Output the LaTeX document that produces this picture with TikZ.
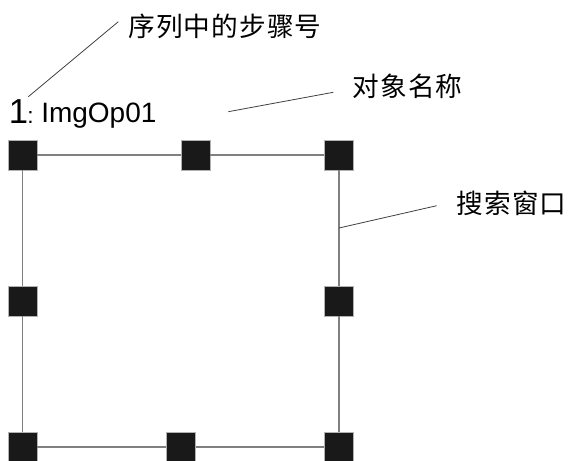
\documentclass[tikz,border=0pt]{standalone}
\usepackage{fontspec}
\setmainfont{Liberation Sans}
\newfontfamily\cjk[LetterSpace=4]{Noto Sans CJK SC}
\usetikzlibrary{calc}
\begin{document}
\begin{tikzpicture}[x=0.75pt,y=-0.75pt,
  handle/.style={rectangle,fill=black!90,draw=black!30,line width=0.3pt,
    minimum width=21.75pt,minimum height=22.5pt,inner sep=0pt},
  edge/.style={draw=black!50,line width=0.8pt},
  leader/.style={draw=black!75,line width=0.6pt},
  cjklabel/.style={font=\cjk\fontsize{20}{22}\selectfont,inner sep=0pt,anchor=center},
  latin/.style={inner sep=0pt,anchor=base west}]
\useasboundingbox (0,0) rectangle (569,461);
% handles
\node[handle] (tl) at (22.5,155) {};
\node[handle] (tm) at (195.5,155) {};
\node[handle] (tr) at (339,155) {};
\node[handle] (ml) at (22.5,301) {};
\node[handle] (mr) at (339,301) {};
\node[handle] (bl) at (22.5,447) {};
\node[handle] (bm) at (181,447) {};
\node[handle] (br) at (339,447) {};
% window edges
\path[edge] (tl) -- (tm) (tm) -- (tr) (tr) -- (mr) (mr) -- (br)
            (bl) -- (bm) (bm) -- (br) (tl) -- (ml) (ml) -- (bl);
% labels
\node[latin,font=\fontsize{26}{26}\selectfont] (num) at (8.5,123) {1\kern-0.5pt\fontsize{17}{17}\selectfont:};
\node[latin,font=\fontsize{21}{22}\selectfont] (name) at (41,122) {ImgOp01};
\node[cjklabel] (step) at (225,26) {序列中的步骤号};
\node[cjklabel] (obj) at (407.5,86) {对象名称};
\node[cjklabel] (win) at (511.5,203) {搜索窗口};
% leaders
\coordinate (stepA) at (28.3,96.7);
\coordinate (stepB) at (118.3,21.7);
\coordinate (objA) at (228.3,111.7);
\coordinate (objB) at (333.3,92.3);
\coordinate (winA) at ($(tr)!0.5!(mr)$);
\coordinate (winB) at (436.7,205.7);
\path[leader] (stepA) -- (stepB);
\path[leader] (objA) -- (objB);
\path[leader] (winA) -- (winB);
\end{tikzpicture}
\end{document}
